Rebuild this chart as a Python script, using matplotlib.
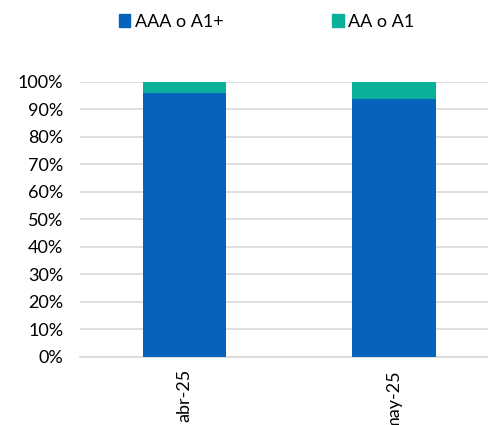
import matplotlib.pyplot as plt
from matplotlib.patches import Patch
import numpy as np

plt.rcParams['font.family'] = ['Lato', 'DejaVu Sans']

# Data
meses = ['abr-25', 'may-25']
aaa = [95.9, 93.9]
aa = [4.1, 6.1]

azul = '#0563BB'
verde = '#0BB09A'

fig = plt.figure(figsize=(4.89, 4.25), dpi=100)
ax = fig.add_axes([80 / 489, 1 - 356.7 / 425, 1 - 80 / 489, (356.7 - 82) / 425])

x = np.arange(len(meses))
ax.bar(x, aaa, width=0.4, color=azul, zorder=3)
ax.bar(x, aa, width=0.4, bottom=aaa, color=verde, zorder=3)

ax.set_ylim(0, 100)
ax.set_xlim(-0.5, 1.455)
ax.set_yticks(np.arange(0, 101, 10))
ax.set_yticklabels([f'{v}%' for v in range(0, 101, 10)])
ax.set_xticks(x)
ax.set_xticklabels(meses, rotation=90)
ax.yaxis.grid(True, color='#D9D9D9', linewidth=1.2, zorder=0)
ax.tick_params(axis='both', length=0, labelsize=13, colors='#000000')
ax.tick_params(axis='y', pad=12)
ax.tick_params(axis='x', pad=9)
for s in ['top', 'right', 'left']:
    ax.spines[s].set_visible(False)
ax.spines['bottom'].set_color('#D9D9D9')
ax.spines['bottom'].set_linewidth(1.2)

handles = [Patch(color=azul, label='AAA o A1+'), Patch(color=verde, label='AA o A1')]
fig.legend(handles=handles, loc='center', bbox_to_anchor=(0.545, 1 - 22 / 425),
           ncol=2, frameon=False, fontsize=13, handlelength=0.65, handleheight=0.7,
           handletextpad=0.25, columnspacing=6.0)

fig.savefig('out.png', dpi=100)
